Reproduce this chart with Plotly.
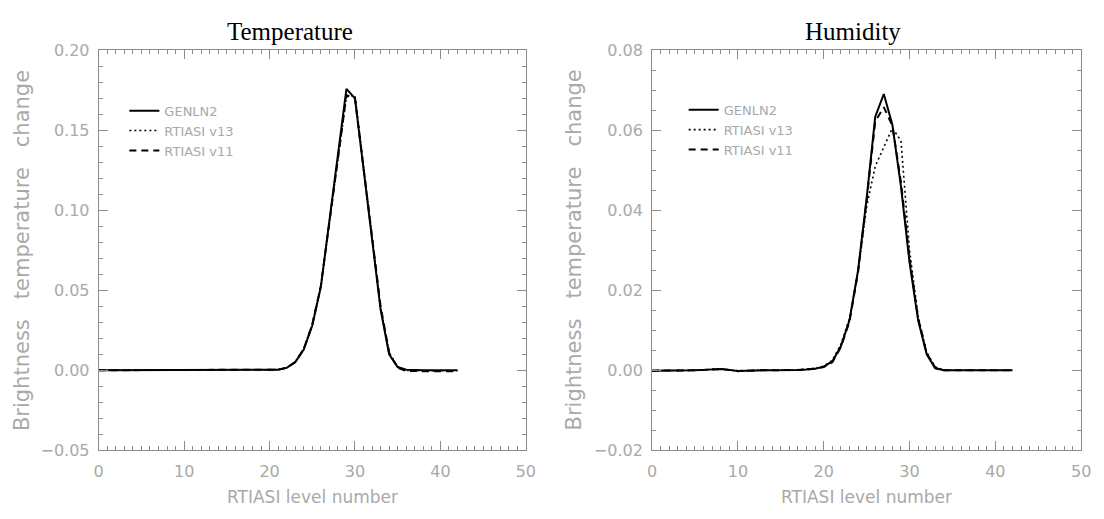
import plotly.graph_objects as go

# PTI-SI / RTIASI level index
levels = list(range(43))

series_names = ["GENLN2", "RTIASI v13", "RTIASI v11"]
panel_titles = ["Temperature", "Humidity"]
x_title = "RTIASI level number"
y_title = "Brightness\u00a0\u00a0 temperature\u00a0\u00a0 change"

# Brightness temperature change for a temperature perturbation
temp_genln2 = [0.0] * 21 + [
    0.0004, 0.0015, 0.005, 0.013, 0.028, 0.052, 0.094, 0.135, 0.176, 0.170,
    0.125, 0.082, 0.038, 0.010, 0.002, 0.0003,
] + [0.0] * 6
temp_v13 = [0.0] * 21 + [
    0.0004, 0.0016, 0.0052, 0.0135, 0.029, 0.053, 0.093, 0.133, 0.171, 0.172,
    0.127, 0.083, 0.039, 0.011, 0.002, 0.0,
] + [-0.0003] * 6
temp_v11 = [0.0] * 21 + [
    0.0004, 0.0015, 0.0051, 0.0132, 0.0285, 0.0525, 0.0935, 0.134, 0.172, 0.170,
    0.127, 0.084, 0.040, 0.011, 0.0015, -0.0005,
] + [-0.0006] * 6

# Brightness temperature change for a humidity perturbation
hum_genln2 = [
    -0.0001, -0.0001, -0.0001, -0.0001, 0.0, 0.0, 0.0001, 0.0002, 0.0003, 0.0001,
    -0.0002, -0.0001, 0.0, 0.0, 0.0, 0.0, 0.0, 0.0001, 0.0002, 0.0004,
    0.0009, 0.0022, 0.006, 0.0125, 0.025, 0.043, 0.0634, 0.0691, 0.0614, 0.046,
    0.027, 0.0125, 0.004, 0.0005,
] + [0.0] * 9
hum_v13 = [
    -0.0001, -0.0001, -0.0001, 0.0, 0.0, 0.0, 0.0001, 0.0003, 0.0004, 0.0001,
    -0.0003, -0.0001, 0.0, 0.0, 0.0, 0.0, 0.0, 0.0001, 0.0003, 0.0005,
    0.001, 0.0025, 0.0065, 0.013, 0.0245, 0.041, 0.051, 0.056, 0.0606, 0.0574,
    0.030, 0.0135, 0.0045, 0.0008, 0.0001,
] + [0.0] * 8
hum_v11 = [
    -0.0001, -0.0001, -0.0001, -0.0001, 0.0, 0.0, 0.0001, 0.0002, 0.0003, 0.0001,
    -0.0002, -0.0001, 0.0, 0.0, 0.0, 0.0, 0.0, 0.0001, 0.0002, 0.0004,
    0.0008, 0.002, 0.0058, 0.0122, 0.0245, 0.0425, 0.0622, 0.0658, 0.0612, 0.047,
    0.028, 0.013, 0.0042, 0.0006,
] + [0.0] * 9

W, H = 1104, 519
GRAY_TEXT = "#a9a9a9"
FRAME = "#8c8c8c"
SANS = "DejaVu Sans"


def fx(p):
    return p / W


def fy(p):
    return 1 - p / H


line_styles = [
    dict(color="black", width=2.0, dash="solid"),
    dict(color="black", width=1.6, dash="2px,3px"),
    dict(color="black", width=2.0, dash="7px,5px"),
]

fig = go.Figure()

panels = [
    (panel_titles[0], [temp_genln2, temp_v13, temp_v11], "x", "y", "legend"),
    (panel_titles[1], [hum_genln2, hum_v13, hum_v11], "x2", "y2", "legend2"),
]
for title, data, xa, ya, leg in panels:
    for name, values, style in zip(series_names, data, line_styles):
        fig.add_trace(go.Scatter(
            x=levels, y=values, mode="lines", name=name,
            line=style, xaxis=xa, yaxis=ya, legend=leg,
        ))

frames = {
    "left": (95, 528),
    "right": (656, 1091),
}
top_px, bottom_px = 43, 458


def xaxis_cfg(x0, x1):
    return dict(
        domain=[fx(x0), fx(x1)], range=[0, 50], dtick=10, tick0=0,
        showgrid=False, zeroline=False, showline=True, linecolor=FRAME,
        linewidth=1, mirror="ticks", ticks="inside", ticklen=9,
        tickcolor=FRAME, tickwidth=1,
        tickfont=dict(family=SANS, size=16, color=GRAY_TEXT),
        ticklabelstandoff=7,
        minor=dict(dtick=1, ticks="inside", ticklen=4, tickcolor=FRAME,
                   showgrid=False),
    )


def yaxis_cfg(anchor, yr, dt, mdt):
    return dict(
        domain=[fy(bottom_px), fy(top_px)], range=yr, dtick=dt, tick0=0,
        tickformat=".2f", anchor=anchor,
        showgrid=False, zeroline=False, showline=True, linecolor=FRAME,
        linewidth=1, mirror="ticks", ticks="inside", ticklen=9,
        tickcolor=FRAME, tickwidth=1,
        tickfont=dict(family=SANS, size=16, color=GRAY_TEXT),
        ticklabelstandoff=5,
        minor=dict(dtick=mdt, ticks="inside", ticklen=4, tickcolor=FRAME,
                   showgrid=False),
    )


legend_style = dict(
    xanchor="left", yanchor="top",
    bgcolor="rgba(0,0,0,0)", borderwidth=0,
    font=dict(family=SANS, size=13, color=GRAY_TEXT),
    itemwidth=30, tracegroupgap=0,
)

fig.update_layout(
    width=W, height=H,
    margin=dict(l=0, r=0, t=0, b=0),
    paper_bgcolor="white", plot_bgcolor="white",
    xaxis=dict(anchor="y", **xaxis_cfg(*frames["left"])),
    yaxis=yaxis_cfg("x", [-0.05, 0.20], 0.05, 0.01),
    xaxis2=dict(anchor="y2", **xaxis_cfg(*frames["right"])),
    yaxis2=yaxis_cfg("x2", [-0.02, 0.08], 0.02, 0.005),
    legend=dict(x=fx(121), y=fy(90), **legend_style),
    legend2=dict(x=fx(688), y=fy(89), **legend_style),
    showlegend=True,
)

annotations = []
# panel titles
for title, cx in zip(panel_titles, [289, 860]):
    annotations.append(dict(
        text=title, x=fx(cx), y=fy(23), xref="paper", yref="paper",
        xanchor="center", yanchor="middle", showarrow=False,
        font=dict(family="Liberation Serif", size=25, color="black"),
    ))
# axis titles
for (x0, x1), ycx in zip(frames.values(), [18, 577]):
    annotations.append(dict(
        text=x_title, x=fx((x0 + x1) / 2), y=fy(507), xref="paper",
        yref="paper", xanchor="center", yanchor="middle", showarrow=False,
        font=dict(family=SANS, size=17, color=GRAY_TEXT),
    ))
    annotations.append(dict(
        text=y_title, x=fx(ycx), y=fy((top_px + bottom_px) / 2),
        xref="paper", yref="paper", xanchor="center", yanchor="middle",
        textangle=-90, showarrow=False,
        font=dict(family=SANS, size=21, color=GRAY_TEXT),
    ))
fig.update_layout(annotations=annotations)

fig.write_html("out.html")
